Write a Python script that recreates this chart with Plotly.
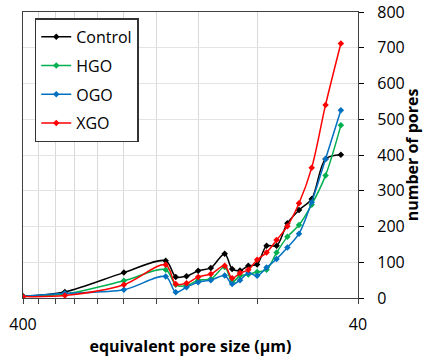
import math
import plotly.graph_objects as go

# Equivalent pore size classes (µm) and pore counts per mix
pore_size = [400, 300, 200, 150, 140, 130, 120, 110, 100, 95,
             90, 85, 80, 75, 70, 65, 60, 55, 50, 45]
control = [5, 17, 71, 104, 59, 61, 76, 84, 124, 81,
           77, 90, 94, 146, 146, 209, 246, 277, 389, 401]
hgo = [5, 11, 48, 79, 37, 34, 50, 53, 87, 45,
       62, 66, 73, 79, 127, 171, 204, 261, 343, 483]
ogo = [5, 13, 23, 60, 16, 30, 44, 50, 63, 39,
       50, 70, 62, 85, 109, 141, 180, 268, 389, 525]
xgo = [4, 7, 37, 93, 39, 41, 59, 67, 90, 55,
       70, 79, 107, 127, 162, 201, 265, 364, 540, 712]

series_names = ["Control", "HGO", "OGO", "XGO"]
series_values = [control, hgo, ogo, xgo]
series_colors = ["#000000", "#00B050", "#0070C0", "#FF0000"]

# Minor ticks at multiples of 40 between the two labelled decades
x_tick_vals = [400, 360, 320, 280, 240, 200, 160, 120, 80, 40]
x_tick_text = ["400", "", "", "", "", "", "", "", "", "40"]
y_tick_vals = [0, 100, 200, 300, 400, 500, 600, 700, 800]

FONT = "Open Sans, Noto Sans, DejaVu Sans, sans-serif"

fig = go.Figure()
for i, (name, vals, col) in enumerate(zip(series_names, series_values, series_colors)):
    fig.add_trace(go.Scatter(
        x=pore_size, y=vals, name=name, mode="lines+markers",
        legendgroup=name,
        line=dict(color=col, width=1.5, shape="spline", smoothing=0.9),
        marker=dict(color=col, size=5, symbol="diamond"),
    ))

fig.update_layout(
    width=423, height=360,
    margin=dict(l=23, r=65, t=12, b=62, autoexpand=False),
    paper_bgcolor="white", plot_bgcolor="white",
    font=dict(family=FONT, size=16, color="#000000"),
    showlegend=True,
    legend=dict(
        x=0.035, y=0.978, xanchor="left", yanchor="top",
        bgcolor="white", bordercolor="#333333", borderwidth=1.5,
        font=dict(family=FONT, size=16, color="#000000"),
        traceorder="grouped", tracegroupgap=5, itemwidth=30,
        entrywidth=95, entrywidthmode="pixels",
    ),
)

fig.update_xaxes(
    type="log", range=[math.log10(400), math.log10(40)],
    tickvals=x_tick_vals, ticktext=x_tick_text,
    ticks="outside", ticklen=5, tickcolor="#404040", tickwidth=1,
    ticklabelstandoff=7, automargin=False,
    showgrid=True, gridcolor="#D9D9D9", gridwidth=1,
    showline=True, linecolor="#404040", linewidth=1.2, mirror=True,
    zeroline=False,
    tickfont=dict(family=FONT, size=16, color="#000000"),
    title=dict(text="<b>equivalent pore size (µm)</b>",
               font=dict(family=FONT, size=16, color="#000000"), standoff=6),
)

fig.update_yaxes(
    side="right", range=[0, 800], tickvals=y_tick_vals,
    ticks="outside", ticklen=5, tickcolor="#000000", tickwidth=1,
    ticklabelstandoff=10, automargin=False,
    showgrid=True, gridcolor="#E3E3E3", gridwidth=1,
    showline=True, linecolor="#404040", linewidth=1.2, mirror=True,
    zeroline=False,
    tickfont=dict(family=FONT, size=16, color="#000000"),
    title=dict(text="<b>number of pores</b>",
               font=dict(family=FONT, size=16, color="#000000"), standoff=2),
)

fig.write_html("out.html")
